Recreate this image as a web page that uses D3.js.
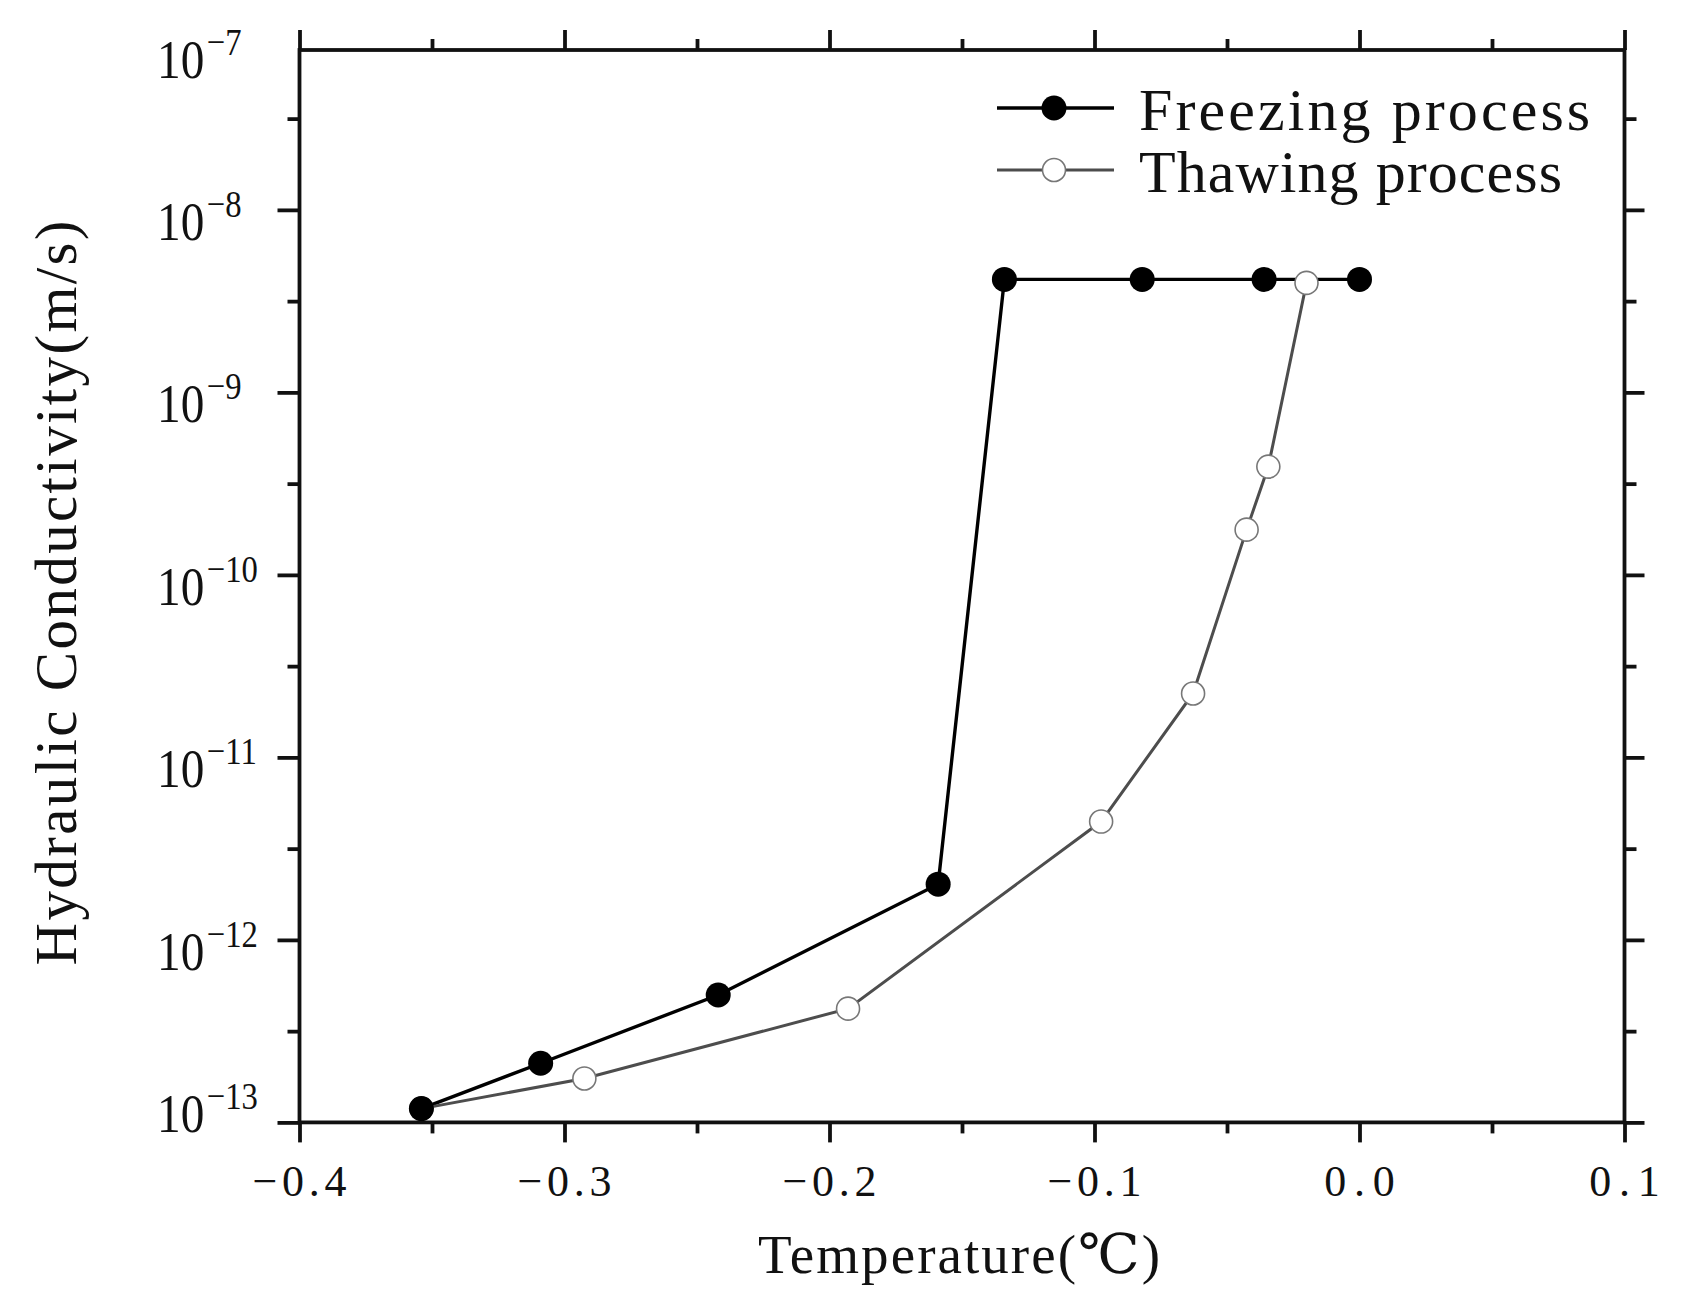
<!DOCTYPE html>
<html>
<head>
<meta charset="utf-8">
<script src="https://cdn.jsdelivr.net/npm/d3@7"></script>
<style>
  body { margin: 0; background: #fff; }
  svg { display: block; }
</style>
</head>
<body>
<svg id="chart" width="1683" height="1307"></svg>
<script>
// values
const freezeT = [-0.354, -0.309, -0.242, -0.159, -0.134, -0.082, -0.036, 0.0]
const freezeK = [1.19e-13, 2.11e-13, 4.99e-13, 2.02e-12, 4.16e-9, 4.16e-9, 4.16e-9, 4.16e-9]
const thawT = [-0.354, -0.2925, -0.193, -0.0975, -0.0628, -0.0426, -0.0344, -0.020]
const thawK = [1.19e-13, 1.74e-13, 4.2e-13, 4.45e-12, 2.24e-11, 1.77e-10, 3.92e-10, 3.98e-9]

const seriesNames = ["Freezing process", "Thawing process"]

const xTicks = [-0.4, -0.3, -0.2, -0.1, 0.0, 0.1]
const xTickLabels = ["\u22120.4", "\u22120.3", "\u22120.2", "\u22120.1", "0.0", "0.1"]
const xMinorTicks = [-0.35, -0.25, -0.15, -0.05, 0.05]
const yExponents = [-13, -12, -11, -10, -9, -8, -7]

const LEFT = 299.5, RIGHT = 1624.5, TOP = 50, BOTTOM = 1122.4
const SERIF = "'Liberation Serif', 'DejaVu Serif', serif"
const INK = "#111"
const AXIS_W = 3.8

const svg = d3.select("#chart")

const xScale = d3.scaleLinear()
    .domain([-0.4, 0.1])
    .range([LEFT, RIGHT])

const yScale = d3.scaleLog()
    .domain([1e-13, Math.pow(10, -7.124)])
    .range([BOTTOM, TOP])

const yMajor = yExponents.map(e => Math.pow(10, e)).filter(v => v <= yScale.domain()[1])
const yMinor = yExponents.map(e => Math.pow(10, e + 0.5)).filter(v => v <= yScale.domain()[1])

svg.append("rect")
    .attr("width", 1683)
    .attr("height", 1307)
    .attr("fill", "#fff")

function styleAxis(g) {
    g.select(".domain").remove()
    g.selectAll("line").attr("stroke", INK).attr("stroke-width", AXIS_W)
}

// x axes (bottom + top), ticks outward
svg.append("g")
    .attr("transform", `translate(0, ${BOTTOM})`)
    .call(d3.axisBottom(xScale).tickValues(xTicks).tickSize(20).tickFormat(""))
    .call(styleAxis)
svg.append("g")
    .attr("transform", `translate(0, ${BOTTOM})`)
    .call(d3.axisBottom(xScale).tickValues(xMinorTicks).tickSize(11).tickFormat(""))
    .call(styleAxis)
svg.append("g")
    .attr("transform", `translate(0, ${TOP})`)
    .call(d3.axisTop(xScale).tickValues(xTicks).tickSize(20).tickFormat(""))
    .call(styleAxis)
svg.append("g")
    .attr("transform", `translate(0, ${TOP})`)
    .call(d3.axisTop(xScale).tickValues(xMinorTicks).tickSize(11).tickFormat(""))
    .call(styleAxis)

// y axes (left + right)
svg.append("g")
    .attr("transform", `translate(${LEFT}, 0)`)
    .call(d3.axisLeft(yScale).tickValues(yMajor).tickSize(22).tickFormat(""))
    .call(styleAxis)
svg.append("g")
    .attr("transform", `translate(${LEFT}, 0)`)
    .call(d3.axisLeft(yScale).tickValues(yMinor).tickSize(12).tickFormat(""))
    .call(styleAxis)
svg.append("g")
    .attr("transform", `translate(${RIGHT}, 0)`)
    .call(d3.axisRight(yScale).tickValues(yMajor).tickSize(20).tickFormat(""))
    .call(styleAxis)
svg.append("g")
    .attr("transform", `translate(${RIGHT}, 0)`)
    .call(d3.axisRight(yScale).tickValues(yMinor).tickSize(12).tickFormat(""))
    .call(styleAxis)

// frame
svg.append("rect")
    .attr("x", LEFT)
    .attr("y", TOP)
    .attr("width", RIGHT - LEFT)
    .attr("height", BOTTOM - TOP)
    .attr("fill", "none")
    .attr("stroke", INK)
    .attr("stroke-width", AXIS_W)

// x tick labels
svg.selectAll(".xlabel")
    .data(xTicks)
    .enter()
    .append("text")
    .attr("class", "xlabel")
    .attr("x", d => xScale(d))
    .attr("y", BOTTOM + 74)
    .attr("text-anchor", "middle")
    .attr("textLength", (d, i) => xTickLabels[i].length * 23.5)
    .attr("lengthAdjust", "spacing")
    .style("font-family", SERIF)
    .style("font-size", "44px")
    .style("fill", INK)
    .text((d, i) => xTickLabels[i])

// y tick labels 10^n, kept inside the frame height
const yLab = svg.selectAll(".ylabel")
    .data(yExponents)
    .enter()
    .append("text")
    .attr("class", "ylabel")
    .attr("transform", d => {
        const base = Math.min(Math.max(yScale(Math.pow(10, d)) + 30, TOP + 28), BOTTOM + 10)
        return `translate(157, ${base}) scale(0.86, 1)`
    })
    .style("font-family", SERIF)
    .style("fill", INK)
yLab.append("tspan")
    .style("font-size", "55px")
    .text("10")
yLab.append("tspan")
    .attr("dx", 3)
    .attr("dy", -23)
    .style("font-size", "38px")
    .text(d => "\u2212" + Math.abs(d))

// axis titles
svg.append("text")
    .attr("x", (LEFT + RIGHT) / 2 - 3)
    .attr("y", 1273)
    .attr("text-anchor", "middle")
    .attr("textLength", 402)
    .attr("lengthAdjust", "spacing")
    .style("font-family", SERIF)
    .style("font-size", "55px")
    .style("fill", INK)
    .text("Temperature(\u2103)")

svg.append("text")
    .attr("transform", "translate(76, 593) rotate(-90)")
    .attr("text-anchor", "middle")
    .attr("textLength", 745)
    .attr("lengthAdjust", "spacing")
    .style("font-family", SERIF)
    .style("font-size", "59px")
    .style("fill", INK)
    .text("Hydraulic Conductivity(m/s)")

// data
const freezeData = freezeT.map((t, i) => [t, freezeK[i]])
const thawData = thawT.map((t, i) => [t, thawK[i]])

const line = d3.line()
    .x(d => xScale(d[0]))
    .y(d => yScale(d[1]))

svg.append("path")
    .datum(freezeData)
    .attr("d", line)
    .attr("fill", "none")
    .attr("stroke", "#000")
    .attr("stroke-width", 3.4)

svg.append("path")
    .datum(thawData)
    .attr("d", line)
    .attr("fill", "none")
    .attr("stroke", "#4d4d4d")
    .attr("stroke-width", 3)

svg.selectAll(".thaw-dot")
    .data(thawData)
    .enter()
    .append("circle")
    .attr("class", "thaw-dot")
    .attr("cx", d => xScale(d[0]))
    .attr("cy", d => yScale(d[1]))
    .attr("r", 11.5)
    .attr("fill", "#fff")
    .attr("stroke", "#777")
    .attr("stroke-width", 1.6)

svg.selectAll(".freeze-dot")
    .data(freezeData)
    .enter()
    .append("circle")
    .attr("class", "freeze-dot")
    .attr("cx", d => xScale(d[0]))
    .attr("cy", d => yScale(d[1]))
    .attr("r", 12.5)
    .attr("fill", "#000")

// legend
const legend = svg.selectAll(".legend")
    .data(seriesNames)
    .enter()
    .append("g")
    .attr("class", "legend")
    .attr("transform", (d, i) => `translate(997, ${108 + i * 62})`)

legend.append("line")
    .attr("x1", 0)
    .attr("x2", 117)
    .attr("stroke", (d, i) => i === 0 ? "#000" : "#4d4d4d")
    .attr("stroke-width", (d, i) => i === 0 ? 3.4 : 3)

legend.append("circle")
    .attr("cx", 57)
    .attr("r", (d, i) => i === 0 ? 12.5 : 11.5)
    .attr("fill", (d, i) => i === 0 ? "#000" : "#fff")
    .attr("stroke", (d, i) => i === 0 ? "none" : "#777")
    .attr("stroke-width", 1.6)

legend.append("text")
    .attr("x", 142)
    .attr("y", 22)
    .attr("textLength", d => d.length * 28.2)
    .attr("lengthAdjust", "spacing")
    .style("font-family", SERIF)
    .style("font-size", "60px")
    .style("fill", INK)
    .text(d => d)
</script>
</body>
</html>
